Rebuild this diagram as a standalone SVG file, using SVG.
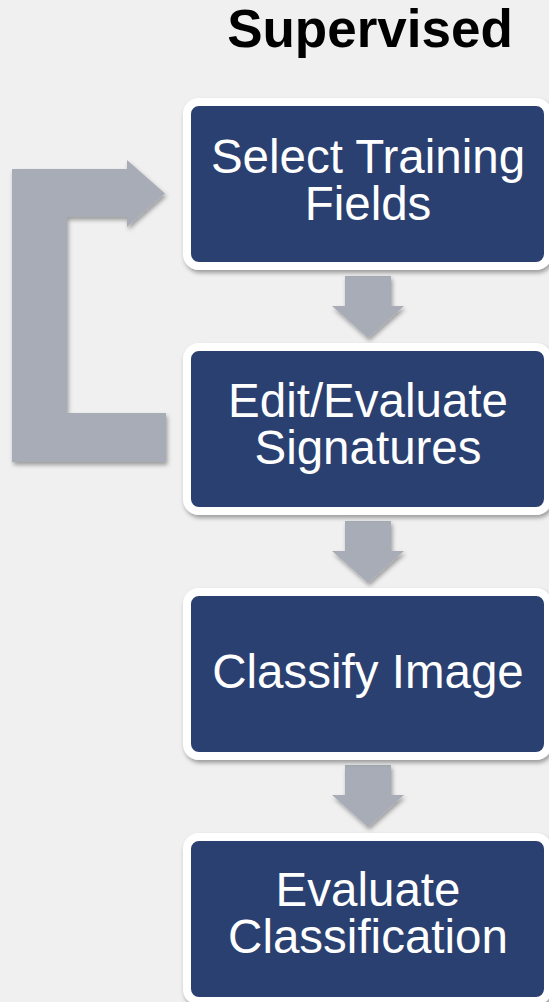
<svg xmlns="http://www.w3.org/2000/svg" width="549" height="1002" viewBox="0 0 549 1002">
  <defs>
    <filter id="shadow" x="-20%" y="-20%" width="140%" height="140%">
      <feDropShadow dx="1.5" dy="3" stdDeviation="2.2" flood-color="#000" flood-opacity="0.35"/>
    </filter>
    <style>
      .step { fill: #2b4170; stroke: #ffffff; stroke-width: 8; filter: url(#shadow); }
      .label { font-family: "Liberation Sans", Arial, sans-serif; font-size: 47.5px; fill: #ffffff; text-anchor: middle; }
      .title { font-family: "Liberation Sans", Arial, sans-serif; font-size: 53px; font-weight: bold; fill: #000000; text-anchor: middle; }
      .arrow { fill: #a8acb7; filter: url(#shadow); }
    </style>
  </defs>

  <rect width="549" height="1002" fill="#f0f0f0"/>

  <text class="title" x="370" y="47">Supervised</text>

  <!-- connectors: loop-back arrow and step arrows -->
  <g id="connectors">
    <polygon class="arrow" points="12,169 127,169 127,160 165,193.5 127,227 127,217 67,217 67,413 166,413 166,462 12,462"/>
    <polygon class="arrow" points="345,276 391,276 391,306 404,306 368,338 332,306 345,306"/>
    <polygon class="arrow" points="345,521 391,521 391,551 404,551 368,583 332,551 345,551"/>
    <polygon class="arrow" points="345,765 391,765 391,795 404,795 368,827 332,795 345,795"/>
  </g>

  <g id="select-training-fields">
    <rect class="step" x="187" y="102" width="361" height="164" rx="12"/>
    <text class="label" x="368" y="173">Select Training<tspan x="368" dy="47">Fields</tspan></text>
  </g>

  <g id="edit-evaluate-signatures">
    <rect class="step" x="187" y="347" width="361" height="164" rx="12"/>
    <text class="label" x="368" y="417">Edit/Evaluate<tspan x="368" dy="46.5">Signatures</tspan></text>
  </g>

  <g id="classify-image">
    <rect class="step" x="187" y="592" width="361" height="164" rx="12"/>
    <text class="label" x="368" y="688">Classify Image</text>
  </g>

  <g id="evaluate-classification">
    <rect class="step" x="187" y="837" width="361" height="164" rx="12"/>
    <text class="label" x="368" y="906">Evaluate<tspan x="368" dy="47">Classification</tspan></text>
  </g>
</svg>
